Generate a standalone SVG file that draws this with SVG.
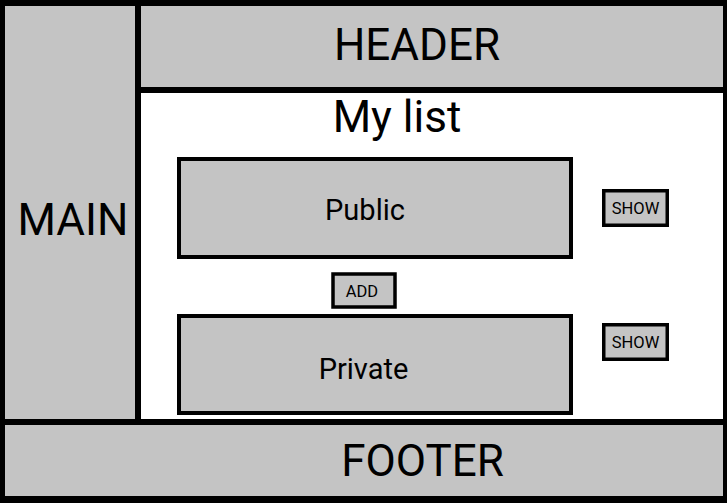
<svg xmlns="http://www.w3.org/2000/svg" width="727" height="503" viewBox="0 0 727 503">
<style>
.frame{fill:#000}
.region{fill:#c4c4c4}
.content{fill:#fff}
.box{fill:#c4c4c4;stroke:#000;stroke-width:4}
.btn{fill:#c4c4c4;stroke:#000;stroke-width:3.5}
text{font-family:Roboto,"Liberation Sans",sans-serif;fill:#000;text-anchor:middle}
.big{font-size:44px}
.mid{font-size:29px}
.small{font-size:16.5px}
</style>
<rect class="frame" x="0" y="0" width="727" height="503"/>
<g id="main">
<rect class="region" x="5" y="6" width="130" height="413"/>
<text class="big" x="73" y="235">MAIN</text>
</g>
<g id="header">
<rect class="region" x="141" y="6" width="582" height="81"/>
<text class="big" x="417" y="60">HEADER</text>
</g>
<g id="content">
<rect class="content" x="141" y="93" width="582" height="326"/>
<text class="big" x="397" y="132">My list</text>
</g>
<g id="public">
<rect class="box" x="179" y="159" width="392" height="98"/>
<text class="mid" x="365" y="220">Public</text>
</g>
<g id="show-public">
<rect class="btn" x="603.75" y="190.75" width="63.5" height="34.5"/>
<text class="small" x="635.5" y="214">SHOW</text>
</g>
<g id="add">
<rect class="btn" x="333" y="274" width="62" height="33"/>
<text class="small" x="362" y="297">ADD</text>
</g>
<g id="private">
<rect class="box" x="179" y="316" width="392" height="97"/>
<text class="mid" x="363.5" y="379">Private</text>
</g>
<g id="show-private">
<rect class="btn" x="603.75" y="324.75" width="63.5" height="34.5"/>
<text class="small" x="635.5" y="348">SHOW</text>
</g>
<g id="footer">
<rect class="region" x="5" y="425" width="718" height="71"/>
<text class="big" x="422.5" y="476">FOOTER</text>
</g>
<g id="connectors"></g>
</svg>
